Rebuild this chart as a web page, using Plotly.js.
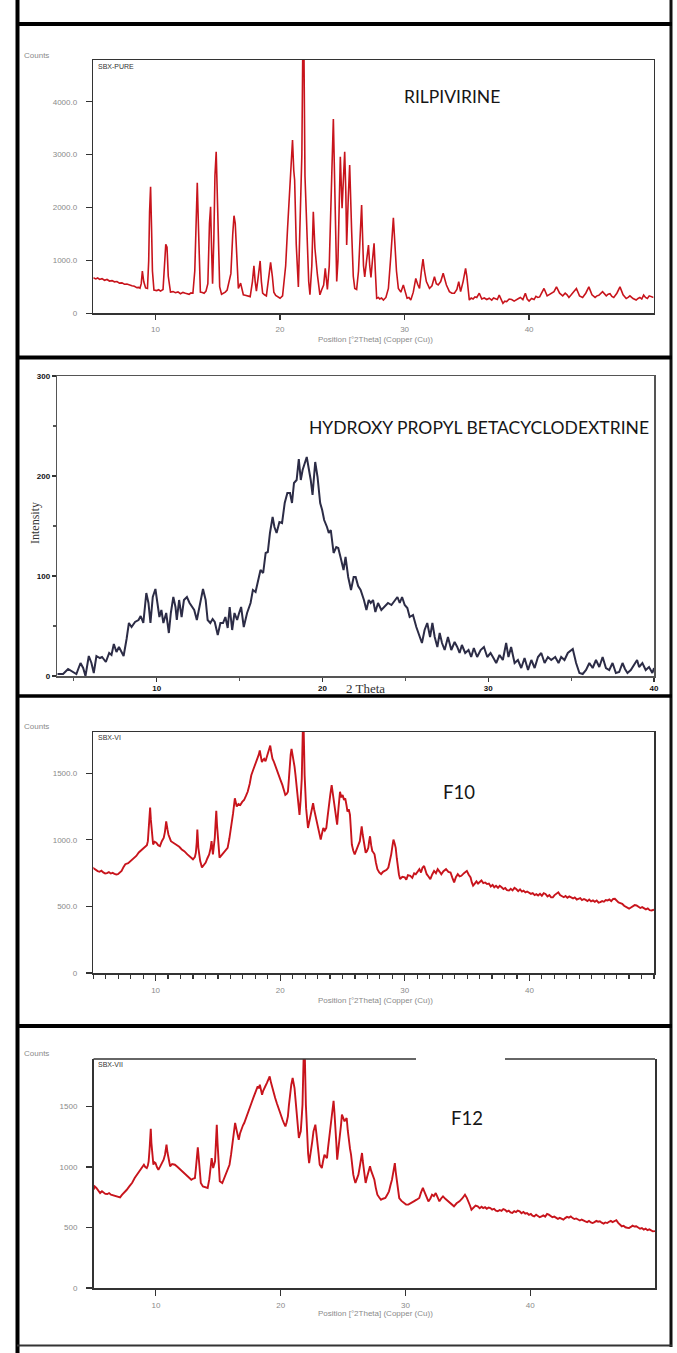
<!DOCTYPE html>
<html>
<head>
<meta charset="utf-8">
<script src="https://cdn.plot.ly/plotly-3.0.1.min.js"></script>
<style>html,body{margin:0;padding:0;background:#fff;}#chart{width:677px;height:1353px;}</style>
</head>
<body>
<div id="chart"></div>
<script>
// ---------------- DATA ----------------
// Panel 1: Rilpivirine pure drug, [2theta, counts]
const rpvScan = [[5.0,674],[5.2,650],[5.35,668],[5.5,640],[5.7,655],[5.9,625],[6.1,640],[6.3,610],[6.5,618],[6.7,595],[6.9,600],[7.1,570],[7.3,575],[7.5,550],[7.7,555],[7.9,530],[8.1,520],[8.3,510],[8.5,485],[8.65,490],[8.75,473],[8.85,560],[8.94,800],[9.05,600],[9.2,480],[9.35,470],[9.45,1000],[9.52,1920],[9.6,2394],[9.68,1600],[9.75,800],[9.87,440],[10.1,430],[10.25,445],[10.4,420],[10.6,450],[10.72,900],[10.82,1304],[10.92,1250],[11.02,700],[11.2,400],[11.4,410],[11.6,390],[11.8,405],[12.0,370],[12.2,395],[12.4,380],[12.55,365],[12.7,360],[12.85,385],[13.0,380],[13.15,800],[13.25,1950],[13.35,2470],[13.45,1600],[13.6,400],[13.75,395],[13.9,380],[14.05,420],[14.2,560],[14.33,1700],[14.42,2016],[14.5,1200],[14.58,560],[14.68,1400],[14.77,2600],[14.87,3056],[14.95,2300],[15.05,900],[15.15,500],[15.3,360],[15.45,380],[15.6,400],[15.75,440],[15.9,600],[16.05,750],[16.2,1500],[16.3,1846],[16.4,1700],[16.55,900],[16.65,470],[16.83,570],[17.05,350],[17.2,340],[17.3,330],[17.45,325],[17.6,315],[17.78,600],[17.9,900],[18.0,600],[18.1,420],[18.25,700],[18.4,990],[18.5,600],[18.6,380],[18.75,350],[18.9,330],[19.1,700],[19.24,964],[19.38,700],[19.5,400],[19.65,340],[19.8,320],[20.0,285],[20.2,330],[20.45,900],[20.6,1600],[20.74,2110],[20.9,2900],[21.0,3277],[21.1,2700],[21.17,2520],[21.3,1300],[21.4,700],[21.47,500],[21.58,1500],[21.65,2237],[21.75,3000],[21.82,4900],[21.92,4900],[22.0,2600],[22.1,1800],[22.19,1100],[22.3,600],[22.4,350],[22.55,900],[22.67,1920],[22.8,1230],[23.0,725],[23.2,350],[23.35,450],[23.5,535],[23.63,850],[23.8,450],[23.95,900],[24.05,1600],[24.15,2600],[24.28,3674],[24.4,2237],[24.55,600],[24.65,1000],[24.75,2400],[24.84,2960],[24.98,1985],[25.1,2500],[25.19,3056],[25.28,2300],[25.35,1290],[25.48,2200],[25.59,2804],[25.75,1544],[25.88,700],[26.0,470],[26.15,450],[26.3,800],[26.4,1290],[26.55,2048],[26.7,900],[26.8,690],[26.95,1000],[27.1,1290],[27.2,900],[27.3,680],[27.42,1000],[27.55,1323],[27.65,800],[27.76,285],[27.9,300],[28.0,270],[28.15,290],[28.3,250],[28.5,300],[28.7,470],[28.9,1100],[29.1,1808],[29.2,1400],[29.35,800],[29.5,470],[29.7,400],[29.9,535],[30.05,400],[30.2,285],[30.35,300],[30.5,250],[30.7,400],[30.9,660],[31.05,550],[31.2,470],[31.35,800],[31.48,1027],[31.6,800],[31.75,600],[32.0,470],[32.2,520],[32.4,690],[32.55,560],[32.7,535],[32.9,600],[33.1,756],[33.25,600],[33.36,535],[33.6,410],[33.8,380],[34.0,380],[34.2,450],[34.35,600],[34.5,410],[34.7,600],[34.9,850],[35.0,700],[35.1,400],[35.2,250],[35.35,290],[35.5,270],[35.65,310],[35.8,300],[36.0,380],[36.2,270],[36.4,290],[36.6,260],[36.8,285],[37.0,250],[37.15,290],[37.3,280],[37.45,260],[37.6,345],[37.75,250],[37.9,190],[38.05,230],[38.2,220],[38.4,270],[38.6,260],[38.8,230],[39.0,250],[39.15,280],[39.3,300],[39.5,260],[39.7,380],[39.85,270],[40.0,230],[40.2,280],[40.4,260],[40.55,320],[40.7,300],[40.85,310],[41.0,380],[41.2,470],[41.45,330],[41.7,360],[42.0,410],[42.2,500],[42.45,380],[42.7,330],[42.9,380],[43.05,350],[43.2,300],[43.35,340],[43.5,380],[43.8,470],[44.05,330],[44.3,300],[44.55,380],[44.8,500],[45.05,350],[45.3,300],[45.45,330],[45.6,340],[45.9,410],[46.05,360],[46.2,330],[46.35,360],[46.5,370],[46.65,320],[46.8,300],[47.05,380],[47.3,500],[47.55,350],[47.8,280],[47.95,300],[48.1,330],[48.35,280],[48.6,250],[48.75,280],[48.9,300],[49.05,270],[49.2,345],[49.35,300],[49.5,280],[49.65,330],[49.8,320],[50.0,300]];

// Panel 2: Hydroxy propyl beta-cyclodextrin, [2theta, intensity]
const hpbcdScan = [[4.0,2],[4.35,2],[4.65,7],[4.95,4],[5.15,2],[5.4,13],[5.56,8],[5.7,0],[5.9,20],[6.06,13],[6.2,3],[6.36,20],[6.57,18],[6.7,19],[6.93,14],[7.13,23],[7.27,21],[7.41,32],[7.57,24],[7.72,29],[7.88,23],[8.0,20],[8.18,37],[8.32,53],[8.48,49],[8.69,54],[8.9,56],[9.03,60],[9.19,53],[9.37,83],[9.5,73],[9.62,53],[9.76,79],[9.92,87],[10.04,73],[10.16,59],[10.28,66],[10.4,53],[10.57,63],[10.73,43],[10.85,63],[11.0,79],[11.13,69],[11.21,56],[11.35,76],[11.5,59],[11.64,76],[11.82,79],[11.98,73],[12.12,69],[12.26,66],[12.42,56],[12.63,73],[12.79,87],[12.95,76],[13.07,56],[13.23,53],[13.37,57],[13.5,54],[13.68,41],[13.84,53],[14.0,53],[14.14,59],[14.28,48],[14.4,69],[14.55,46],[14.69,63],[14.85,56],[14.97,63],[15.09,69],[15.25,49],[15.45,63],[15.66,73],[15.8,86],[15.96,84],[16.1,93],[16.26,106],[16.42,103],[16.57,123],[16.7,124],[16.83,143],[16.99,159],[17.1,149],[17.23,143],[17.4,154],[17.56,153],[17.72,173],[17.88,183],[18.04,183],[18.16,173],[18.28,193],[18.44,196],[18.57,217],[18.69,196],[18.8,206],[19.05,219],[19.17,209],[19.29,196],[19.4,181],[19.56,214],[19.7,199],[19.86,173],[19.98,166],[20.1,156],[20.27,149],[20.38,143],[20.5,146],[20.67,123],[20.83,129],[20.95,128],[21.1,118],[21.27,106],[21.39,119],[21.55,99],[21.72,86],[21.88,99],[22.0,99],[22.15,90],[22.3,86],[22.5,76],[22.65,66],[22.79,76],[22.91,73],[23.05,76],[23.19,64],[23.35,73],[23.55,66],[23.75,69],[23.95,73],[24.16,71],[24.36,76],[24.52,79],[24.66,73],[24.8,79],[24.96,71],[25.12,68],[25.26,59],[25.46,61],[25.66,49],[25.86,39],[26.0,33],[26.16,46],[26.32,53],[26.49,39],[26.63,53],[26.77,39],[26.93,29],[27.07,43],[27.21,33],[27.37,26],[27.57,39],[27.77,26],[27.97,34],[28.13,29],[28.27,23],[28.41,31],[28.61,23],[28.81,26],[28.97,19],[29.13,28],[29.33,19],[29.54,26],[29.74,29],[29.94,19],[30.14,23],[30.28,19],[30.48,13],[30.68,21],[30.88,16],[31.08,33],[31.22,19],[31.38,29],[31.59,13],[31.79,16],[31.99,8],[32.19,18],[32.4,6],[32.6,16],[32.8,8],[33.0,19],[33.2,23],[33.4,13],[33.6,19],[33.8,16],[34.04,19],[34.24,13],[34.4,19],[34.6,16],[34.8,23],[35.1,27],[35.3,13],[35.5,3],[35.7,2],[35.9,6],[36.1,13],[36.3,8],[36.5,16],[36.7,9],[36.9,19],[37.1,8],[37.3,6],[37.5,13],[37.7,3],[37.9,4],[38.1,13],[38.25,7],[38.4,3],[38.6,6],[38.98,16],[39.1,9],[39.3,13],[39.5,6],[39.7,9],[39.9,3],[40.0,8]];

// Panel 3: formulation F10, [2theta, counts]
const f10Scan = [[4.93,792],[5.1,780],[5.2,772],[5.35,765],[5.5,760],[5.65,768],[5.8,755],[5.95,748],[6.1,750],[6.25,758],[6.4,747],[6.55,752],[6.7,745],[6.85,740],[6.98,742],[7.12,755],[7.27,767],[7.42,795],[7.57,817],[7.8,825],[8.0,841],[8.2,860],[8.45,879],[8.65,905],[8.9,928],[9.05,940],[9.18,953],[9.3,960],[9.38,990],[9.47,1089],[9.56,1242],[9.62,1150],[9.68,1089],[9.8,965],[9.92,985],[10.06,978],[10.2,960],[10.35,953],[10.5,990],[10.65,1015],[10.75,1060],[10.85,1138],[10.95,1080],[11.03,1040],[11.23,990],[11.45,975],[11.67,965],[11.9,948],[12.1,928],[12.3,915],[12.55,891],[12.8,870],[13.0,854],[13.15,870],[13.23,903],[13.3,980],[13.35,1077],[13.43,940],[13.58,841],[13.72,792],[13.88,815],[14.02,829],[14.15,860],[14.3,891],[14.42,940],[14.49,990],[14.6,891],[14.7,960],[14.75,1015],[14.81,1120],[14.87,1218],[14.93,1110],[14.99,1015],[15.13,866],[15.3,885],[15.48,903],[15.62,925],[15.78,940],[15.92,1010],[16.07,1089],[16.22,1200],[16.36,1312],[16.51,1250],[16.65,1270],[16.8,1262],[16.95,1285],[17.1,1299],[17.25,1330],[17.39,1361],[17.55,1420],[17.68,1485],[17.85,1530],[17.98,1559],[18.08,1585],[18.18,1609],[18.28,1640],[18.36,1671],[18.45,1620],[18.53,1584],[18.62,1600],[18.71,1609],[18.82,1590],[18.94,1634],[19.08,1665],[19.2,1708],[19.28,1660],[19.38,1609],[19.48,1590],[19.59,1559],[19.72,1520],[19.88,1485],[20.02,1450],[20.18,1411],[20.3,1370],[20.41,1337],[20.52,1345],[20.62,1361],[20.7,1460],[20.76,1559],[20.84,1640],[20.91,1683],[20.98,1650],[21.06,1609],[21.15,1550],[21.23,1485],[21.32,1400],[21.41,1312],[21.48,1240],[21.55,1188],[21.64,1300],[21.73,1460],[21.82,1850],[21.88,1850],[21.96,1485],[22.08,1238],[22.23,1089],[22.32,1130],[22.4,1163],[22.52,1220],[22.64,1275],[22.72,1230],[22.81,1188],[22.92,1150],[23.02,1114],[23.14,1050],[23.25,1002],[23.36,1050],[23.46,1089],[23.58,1070],[23.7,1089],[23.8,1170],[23.9,1262],[24.02,1340],[24.13,1411],[24.22,1350],[24.34,1287],[24.45,1200],[24.57,1114],[24.68,1240],[24.8,1361],[24.9,1320],[25.01,1337],[25.12,1300],[25.22,1312],[25.32,1260],[25.4,1213],[25.5,1230],[25.6,1188],[25.68,1070],[25.75,965],[25.86,920],[25.98,891],[26.08,915],[26.19,940],[26.29,960],[26.39,990],[26.47,1050],[26.54,1101],[26.62,1040],[26.69,990],[26.78,940],[26.86,903],[26.96,915],[27.07,940],[27.14,990],[27.21,1027],[27.3,960],[27.39,916],[27.48,905],[27.57,891],[27.68,830],[27.8,780],[27.95,755],[28.1,742],[28.25,760],[28.39,767],[28.54,775],[28.68,792],[28.8,840],[28.91,891],[29.0,950],[29.09,1002],[29.18,975],[29.27,940],[29.36,860],[29.44,792],[29.53,740],[29.62,705],[29.8,722],[30.0,718],[30.12,700],[30.25,735],[30.44,730],[30.6,715],[30.75,748],[30.88,742],[31.02,760],[31.17,780],[31.3,755],[31.42,790],[31.55,804],[31.65,770],[31.76,742],[31.9,725],[32.05,705],[32.2,740],[32.35,767],[32.5,750],[32.64,780],[32.8,760],[32.93,742],[33.1,765],[33.31,780],[33.5,760],[33.67,755],[33.82,715],[33.96,681],[34.1,720],[34.25,742],[34.4,725],[34.54,730],[34.75,750],[34.98,767],[35.12,740],[35.28,718],[35.38,680],[35.48,656],[35.6,670],[35.75,688],[35.88,672],[36.0,681],[36.15,695],[36.3,675],[36.45,680],[36.6,668],[36.75,672],[36.9,650],[37.05,662],[37.18,644],[37.32,655],[37.48,640],[37.62,655],[37.77,644],[37.92,630],[38.06,638],[38.2,622],[38.36,619],[38.5,632],[38.65,620],[38.8,640],[38.94,631],[39.1,615],[39.25,628],[39.4,612],[39.53,619],[39.68,605],[39.82,612],[39.97,600],[40.12,594],[40.27,600],[40.42,585],[40.56,592],[40.7,582],[40.85,595],[41.0,580],[41.15,600],[41.29,594],[41.45,575],[41.6,585],[41.74,568],[41.88,569],[42.02,585],[42.18,596],[42.32,606],[42.46,585],[42.6,575],[42.76,569],[42.9,578],[43.05,565],[43.2,575],[43.34,569],[43.5,560],[43.64,568],[43.8,552],[43.93,557],[44.08,562],[44.22,548],[44.38,556],[44.52,549],[44.66,540],[44.8,552],[44.95,538],[45.1,545],[45.25,535],[45.4,545],[45.55,528],[45.69,532],[45.84,540],[45.98,535],[46.13,548],[46.28,545],[46.42,552],[46.57,540],[46.72,556],[46.86,557],[47.0,545],[47.15,530],[47.3,525],[47.45,520],[47.6,505],[47.75,495],[47.9,490],[48.0,483],[48.15,492],[48.3,500],[48.45,510],[48.6,507],[48.75,495],[48.9,488],[49.05,495],[49.2,483],[49.35,478],[49.5,485],[49.65,472],[49.8,470],[50.0,475]];

// Panel 4: formulation F12, [2theta, counts]
const f12Scan = [[5.0,813],[5.1,840],[5.23,827],[5.38,800],[5.53,785],[5.68,800],[5.8,790],[5.95,778],[6.11,777],[6.25,785],[6.4,772],[6.55,768],[6.7,766],[6.9,760],[7.13,749],[7.28,770],[7.43,785],[7.65,810],[7.87,840],[8.1,870],[8.3,909],[8.52,945],[8.74,978],[8.9,1000],[9.04,1019],[9.15,1000],[9.27,992],[9.35,1010],[9.42,1047],[9.5,1157],[9.59,1317],[9.64,1200],[9.68,1130],[9.8,1019],[9.88,1040],[9.97,1033],[10.08,1000],[10.2,978],[10.35,1005],[10.5,1033],[10.62,1060],[10.73,1102],[10.85,1185],[10.93,1120],[11.0,1074],[11.14,1006],[11.3,1025],[11.52,1019],[11.74,1000],[11.96,978],[12.18,960],[12.4,937],[12.62,915],[12.84,895],[13.0,905],[13.13,909],[13.2,980],[13.27,1047],[13.36,1163],[13.48,1019],[13.6,868],[13.77,840],[13.95,835],[14.15,827],[14.28,900],[14.36,992],[14.47,1074],[14.59,992],[14.67,1020],[14.74,1047],[14.81,1200],[14.88,1350],[14.94,1200],[15.0,1102],[15.12,882],[15.32,868],[15.45,900],[15.61,937],[15.75,975],[15.9,1019],[16.02,1100],[16.14,1185],[16.25,1280],[16.35,1364],[16.49,1295],[16.64,1226],[16.75,1280],[16.87,1322],[16.98,1345],[17.08,1364],[17.22,1400],[17.37,1446],[17.52,1490],[17.66,1529],[17.8,1570],[17.95,1603],[18.06,1640],[18.16,1667],[18.25,1650],[18.33,1681],[18.42,1630],[18.51,1598],[18.6,1630],[18.68,1653],[18.78,1670],[18.89,1694],[19.0,1720],[19.12,1749],[19.22,1700],[19.33,1653],[19.45,1610],[19.56,1570],[19.7,1525],[19.85,1474],[20.0,1430],[20.15,1391],[20.27,1360],[20.38,1336],[20.48,1370],[20.58,1419],[20.66,1510],[20.73,1598],[20.85,1680],[20.96,1736],[21.04,1700],[21.11,1653],[21.18,1570],[21.26,1488],[21.36,1360],[21.46,1240],[21.54,1270],[21.61,1295],[21.68,1400],[21.75,1515],[21.85,1950],[21.93,1950],[22.02,1515],[22.13,1212],[22.2,1110],[22.28,1033],[22.36,1080],[22.43,1130],[22.53,1210],[22.63,1295],[22.7,1330],[22.78,1350],[22.86,1280],[22.95,1212],[23.04,1110],[23.13,1019],[23.22,1000],[23.3,992],[23.4,1050],[23.51,1102],[23.61,1085],[23.71,1074],[23.8,1160],[23.89,1240],[23.99,1340],[24.09,1433],[24.17,1500],[24.24,1548],[24.31,1450],[24.39,1350],[24.46,1200],[24.53,1060],[24.65,1160],[24.77,1267],[24.84,1350],[24.91,1433],[25.0,1400],[25.12,1378],[25.2,1390],[25.29,1405],[25.38,1300],[25.47,1198],[25.56,1150],[25.64,1102],[25.73,1010],[25.82,937],[25.9,900],[25.99,868],[26.1,900],[26.23,937],[26.32,990],[26.4,1047],[26.46,1080],[26.52,1116],[26.58,1050],[26.64,992],[26.72,930],[26.81,868],[26.92,915],[27.02,964],[27.09,985],[27.16,1006],[27.25,970],[27.34,937],[27.42,915],[27.51,895],[27.62,830],[27.75,771],[27.9,748],[28.04,730],[28.2,738],[28.39,744],[28.54,770],[28.68,799],[28.8,850],[28.92,895],[29.03,960],[29.15,1033],[29.22,960],[29.3,895],[29.4,810],[29.5,744],[29.68,720],[29.85,703],[30.05,690],[30.23,689],[30.45,705],[30.67,716],[30.9,730],[31.11,744],[31.25,790],[31.4,827],[31.5,800],[31.61,771],[31.72,740],[31.84,716],[32.0,740],[32.13,771],[32.28,760],[32.43,785],[32.58,750],[32.72,716],[32.86,740],[33.01,758],[33.22,735],[33.45,716],[33.67,700],[33.89,675],[34.1,700],[34.33,716],[34.55,740],[34.77,771],[34.92,745],[35.06,716],[35.18,680],[35.29,647],[35.45,665],[35.62,682],[35.79,675],[35.95,660],[36.1,672],[36.23,661],[36.38,668],[36.52,655],[36.66,665],[36.81,661],[36.95,648],[37.1,655],[37.25,640],[37.4,634],[37.55,645],[37.7,638],[37.84,652],[37.98,647],[38.13,632],[38.28,640],[38.42,625],[38.57,620],[38.72,635],[38.86,628],[39.0,640],[39.15,634],[39.3,618],[39.45,628],[39.6,615],[39.74,620],[39.9,605],[40.05,612],[40.18,598],[40.32,592],[40.47,605],[40.62,596],[40.76,585],[40.91,592],[41.05,600],[41.2,590],[41.35,612],[41.49,606],[41.64,592],[41.78,585],[41.93,590],[42.08,579],[42.22,572],[42.37,580],[42.52,570],[42.66,565],[42.8,578],[42.95,588],[43.1,582],[43.25,592],[43.4,578],[43.54,570],[43.68,575],[43.83,565],[43.98,558],[44.12,566],[44.27,555],[44.42,551],[44.56,545],[44.71,555],[44.86,542],[45.0,537],[45.15,545],[45.3,555],[45.44,548],[45.58,551],[45.73,540],[45.88,532],[46.02,542],[46.17,537],[46.32,548],[46.46,555],[46.6,545],[46.75,551],[46.9,560],[47.05,538],[47.2,522],[47.34,510],[47.48,515],[47.63,502],[47.78,498],[47.92,496],[48.06,505],[48.2,515],[48.35,508],[48.5,510],[48.65,500],[48.8,490],[48.95,495],[49.1,482],[49.25,490],[49.4,478],[49.55,485],[49.7,472],[49.82,468],[50.0,470]];

// Axis ticks and labels
const rpvYTicks = [0, 1000, 2000, 3000, 4000];
const rpvYLabels = ['0', '1000.0', '2000.0', '3000.0', '4000.0'];
const hpbcdYTicks = [0, 100, 200, 300];
const hpbcdYLabels = ['0', '100', '200', '300'];
const f10YTicks = [0, 500, 1000, 1500];
const f10YLabels = ['0', '500.0', '1000.0', '1500.0'];
const f12YTicks = [0, 500, 1000, 1500];
const f12YLabels = ['0', '500', '1000', '1500'];
const xrdXTicks = [10, 20, 30, 40];
const xrdXLabels = ['10', '20', '30', '40'];
const hpbcdXTicks = [10, 20, 30, 40];
const hpbcdXLabels = ['10', '20', '30', '40'];

const panelNames = ['RILPIVIRINE', 'HYDROXY PROPYL BETACYCLODEXTRINE', 'F10', 'F12'];
const sampleIds = ['SBX-PURE', 'SBX-VI', 'SBX-VII'];
const xrdXTitle = 'Position [°2Theta] (Copper (Cu))';
const countsTitle = 'Counts';
const hpbcdXTitle = '2 Theta';
const hpbcdYTitle = 'Intensity';

// ---------------- LAYOUT ----------------
const W = 677, H = 1353;
const fx = px => px / W;
const fy = py => 1 - py / H;

const col = s => s.map(p => p[0]);
const val = s => s.map(p => p[1]);

const red = '#c8141c';
const traces = [
  {x: col(rpvScan), y: val(rpvScan), xaxis: 'x', yaxis: 'y', type: 'scatter', mode: 'lines', line: {color: red, width: 1.6}},
  {x: col(hpbcdScan), y: val(hpbcdScan), xaxis: 'x2', yaxis: 'y2', type: 'scatter', mode: 'lines', line: {color: '#2c2c46', width: 2}},
  {x: col(f10Scan), y: val(f10Scan), xaxis: 'x3', yaxis: 'y3', type: 'scatter', mode: 'lines', line: {color: red, width: 1.9}},
  {x: col(f12Scan), y: val(f12Scan), xaxis: 'x4', yaxis: 'y4', type: 'scatter', mode: 'lines', line: {color: red, width: 1.9}}
];

const grayTick = {family: 'Liberation Sans, Arial, sans-serif', size: 8, color: '#8a8a8a'};
const baseAxis = {showgrid: false, zeroline: false, showline: true, linecolor: '#333', linewidth: 1.5,
                  ticks: 'outside', ticklen: 5, tickwidth: 1.2, tickcolor: '#333', tickfont: grayTick, fixedrange: true};

function xAx(domain, range, anchor, extra) {
  return Object.assign({}, baseAxis, {domain: domain, range: range, anchor: anchor, tickmode: 'array'}, extra || {});
}
function yAx(domain, range, anchor, extra) {
  return Object.assign({}, baseAxis, {domain: domain, range: range, anchor: anchor, tickmode: 'array'}, extra || {});
}

const boldTick = {family: 'Liberation Sans, Arial, sans-serif', size: 8, color: '#111', weight: 'bold'};

const layout = {
  width: W, height: H,
  margin: {l: 0, r: 0, t: 0, b: 0},
  paper_bgcolor: '#fff', plot_bgcolor: '#fff',
  showlegend: false,
  xaxis: xAx([fx(93.3), fx(653.6)], [5, 50], 'y', {tickvals: xrdXTicks, ticktext: xrdXLabels, mirror: true, ticklabelstandoff: 3}),
  yaxis: yAx([fy(313.3), fy(60)], [0, 4790], 'x', {tickvals: rpvYTicks, ticktext: rpvYLabels, mirror: true, ticklen: 6, ticklabelstandoff: 7}),
  xaxis2: xAx([fx(57.3), fx(654)], [4, 40], 'y2', {tickvals: hpbcdXTicks, ticktext: hpbcdXLabels, mirror: true, tickfont: boldTick, ticklen: 4, linecolor: '#555', linewidth: 1.5,
            minor: {tickvals: [5, 15, 25, 35], ticks: 'outside', ticklen: 3, tickcolor: '#555'}}),
  yaxis2: yAx([fy(676), fy(376)], [0, 300], 'x2', {tickvals: hpbcdYTicks, ticktext: hpbcdYLabels, mirror: true, tickfont: boldTick, ticklen: 4, linecolor: '#555', linewidth: 1.5,
            minor: {tickvals: [50, 150, 250], ticks: 'outside', ticklen: 3, tickcolor: '#555'}}),
  xaxis3: xAx([fx(93.3), fx(654)], [5, 50], 'y3', {tickvals: xrdXTicks, ticktext: xrdXLabels, mirror: true, ticklen: 6, ticklabelstandoff: 3,
            minor: {dtick: 1, ticks: 'outside', ticklen: 4, tickcolor: '#333'}}),
  yaxis3: yAx([fy(973), fy(732)], [0, 1810], 'x3', {tickvals: f10YTicks, ticktext: f10YLabels, mirror: true, ticklen: 6, ticklabelstandoff: 7}),
  xaxis4: xAx([fx(93.5), fx(655)], [5, 50], 'y4', {tickvals: xrdXTicks, ticktext: xrdXLabels, mirror: false, ticklen: 6, ticklabelstandoff: 3}),
  yaxis4: yAx([fy(1288), fy(1059)], [0, 1893], 'x4', {tickvals: f12YTicks, ticktext: f12YLabels, mirror: true, ticklen: 6, ticklabelstandoff: 7}),
  shapes: [
    // outer frame of the composite figure
    {type: 'line', xref: 'paper', yref: 'paper', x0: fx(17.5), x1: fx(17.5), y0: 0, y1: 1, line: {color: '#000', width: 4}},
    {type: 'line', xref: 'paper', yref: 'paper', x0: fx(671), x1: fx(671), y0: fy(0), y1: fy(1347), line: {color: '#111', width: 3}},
    {type: 'line', xref: 'paper', yref: 'paper', x0: fx(17), x1: fx(672), y0: fy(24), y1: fy(24), line: {color: '#000', width: 4}},
    {type: 'line', xref: 'paper', yref: 'paper', x0: fx(17), x1: fx(672), y0: fy(357.5), y1: fy(357.5), line: {color: '#000', width: 4}},
    {type: 'line', xref: 'paper', yref: 'paper', x0: fx(17), x1: fx(672), y0: fy(696), y1: fy(696), line: {color: '#000', width: 3.5}},
    {type: 'line', xref: 'paper', yref: 'paper', x0: fx(17), x1: fx(672), y0: fy(1026), y1: fy(1026), line: {color: '#000', width: 4}},
    {type: 'line', xref: 'paper', yref: 'paper', x0: fx(17), x1: fx(672), y0: fy(1345.5), y1: fy(1345.5), line: {color: '#333', width: 2}},
    // F12 plot box top edge, interrupted as in the scan
    {type: 'line', xref: 'paper', yref: 'paper', x0: fx(93.5), x1: fx(416), y0: fy(1059), y1: fy(1059), line: {color: '#333', width: 1.5}},
    {type: 'line', xref: 'paper', yref: 'paper', x0: fx(505), x1: fx(655), y0: fy(1059), y1: fy(1059), line: {color: '#333', width: 1.5}}
  ],
  annotations: []
};

const A = layout.annotations;
const labelFont = (size, color) => ({family: 'Lato, Roboto, sans-serif', size: size, color: color});
const smallGray = {family: 'Liberation Sans, Arial, sans-serif', size: 8, color: '#8a8a8a'};
function note(text, px, py, font, extra) {
  A.push(Object.assign({text: text, xref: 'paper', yref: 'paper', x: fx(px), y: fy(py), showarrow: false,
    xanchor: 'center', yanchor: 'middle', font: font}, extra || {}));
}
// panel names
note(panelNames[0], 452, 97, labelFont(17.5, '#161616'));
note(panelNames[1], 478.5, 427, labelFont(17.5, '#161616'));
note(panelNames[2], 459, 792, labelFont(18.5, '#161616'));
note(panelNames[3], 467, 1118, labelFont(18.5, '#161616'));
// "Counts" labels
note(countsTitle, 22, 55, smallGray, {xanchor: 'left'});
note(countsTitle, 22, 726, smallGray, {xanchor: 'left'});
note(countsTitle, 22, 1053, smallGray, {xanchor: 'left'});
// x-axis titles
note(xrdXTitle, 375, 340, smallGray);
note(xrdXTitle, 375, 1000, smallGray);
note(xrdXTitle, 375, 1313, smallGray);
// sample ids inside the boxes
const tiny = {family: 'Liberation Sans, Arial, sans-serif', size: 7, color: '#333'};
note(sampleIds[0], 96, 66, tiny, {xanchor: 'left'});
note(sampleIds[1], 96, 737, tiny, {xanchor: 'left'});
note(sampleIds[2], 96, 1064, tiny, {xanchor: 'left'});
// HPBCD axis titles
note(hpbcdXTitle, 366, 688, {family: 'Liberation Serif, Times New Roman, serif', size: 13, color: '#333'});
note(hpbcdYTitle, 35, 523, {family: 'Liberation Serif, Times New Roman, serif', size: 12, color: '#333'}, {textangle: -90});

Plotly.newPlot('chart', traces, layout, {displayModeBar: false, staticPlot: true});
</script>
</body>
</html>
